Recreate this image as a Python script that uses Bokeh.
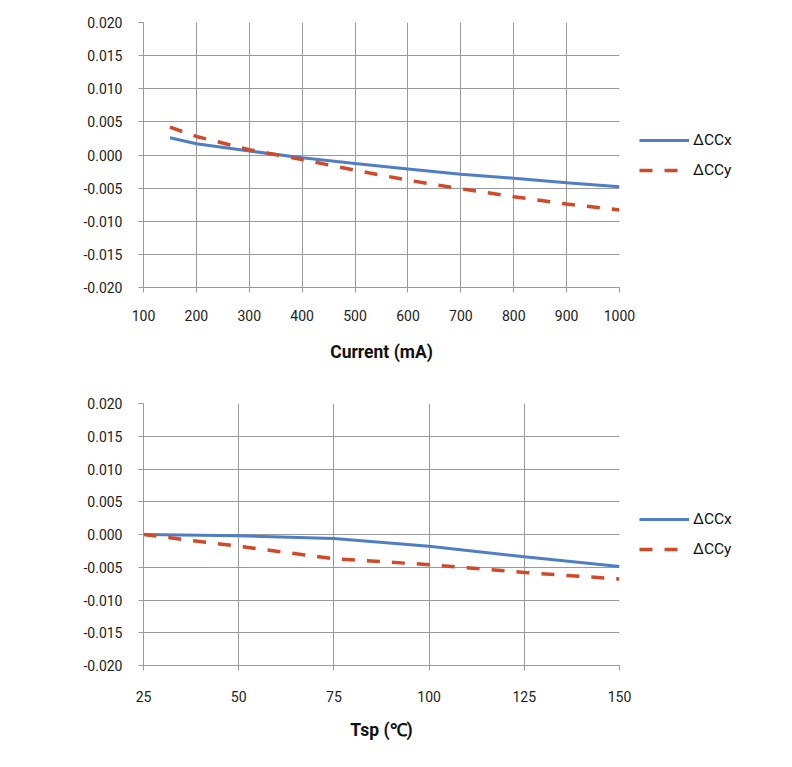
from bokeh.plotting import figure
from bokeh.layouts import column
from bokeh.models import FixedTicker, Legend, LegendItem, Range1d
from bokeh.embed import file_html
from bokeh.resources import INLINE

# Top chart: chromaticity shift vs current
current_ma = [150, 200, 300, 400, 500, 600, 700, 800, 900, 1000]
dccx_current = [0.0026, 0.0017, 0.0006, -0.0004, -0.0013, -0.0021, -0.0029, -0.0035, -0.0042, -0.0048]
dccy_current = [0.0042, 0.0028, 0.0008, -0.0007, -0.0023, -0.0038, -0.0051, -0.0063, -0.0074, -0.0083]

# Bottom chart: chromaticity shift vs solder point temperature
tsp_c = [25, 50, 75, 100, 125, 150]
dccx_tsp = [0.0000, -0.0002, -0.0006, -0.0018, -0.0034, -0.0049]
dccy_tsp = [0.0000, -0.0018, -0.0037, -0.0046, -0.0058, -0.0068]

y_ticks = [0.020, 0.015, 0.010, 0.005, 0.0, -0.005, -0.010, -0.015, -0.020]
y_labels = {-0.02: "-0.020", -0.015: "-0.015", -0.01: "-0.010", -0.005: "-0.005", 0.0: "0.000",
            0.005: "0.005", 0.01: "0.010", 0.015: "0.015", 0.02: "0.020"}
x_ticks_top = [100, 200, 300, 400, 500, 600, 700, 800, 900, 1000]
x_ticks_bot = [25, 50, 75, 100, 125, 150]

BLUE = "#4F7EC4"
RED = "#D04A2A"
GRID = "#9a9a9a"
FONT = "Roboto"


def make(xs, ya, yb, xr, xticks, title, fh, top, bottom, tick_standoff, title_standoff):
    p = figure(frame_width=476, frame_height=fh, output_backend="svg", toolbar_location=None,
               x_range=Range1d(*xr), y_range=Range1d(-0.02, 0.02),
               min_border_left=143, min_border_right=10,
               min_border_top=top, min_border_bottom=bottom)
    p.outline_line_color = None
    p.background_fill_color = "white"
    p.border_fill_color = "white"
    r1 = p.line(xs, ya, line_color=BLUE, line_width=3)
    r2 = p.line(xs, yb, line_color=RED, line_width=3.5, line_dash="13 12")

    p.xaxis.ticker = FixedTicker(ticks=xticks)
    p.yaxis.ticker = FixedTicker(ticks=y_ticks)
    p.yaxis.major_label_overrides = y_labels
    for ax in (p.xaxis[0], p.yaxis[0]):
        ax.axis_line_color = GRID
        ax.major_tick_line_color = GRID
        ax.major_tick_out = 5
        ax.major_tick_in = 0
        ax.minor_tick_line_color = None
        ax.major_label_text_font = FONT
        ax.major_label_text_font_size = "14px"
        ax.major_label_text_color = "#222222"
    p.xaxis.major_label_standoff = tick_standoff
    p.yaxis.major_label_standoff = 16
    p.xaxis.axis_label = title
    p.xaxis.axis_label_text_font = FONT
    p.xaxis.axis_label_text_font_style = "bold"
    p.xaxis.axis_label_text_font_size = "17.5px"
    p.xaxis.axis_label_text_color = "#111111"
    p.xaxis.axis_label_standoff = title_standoff
    p.xgrid.ticker = FixedTicker(ticks=xticks)
    p.ygrid.ticker = FixedTicker(ticks=y_ticks)
    p.xgrid.grid_line_color = GRID
    p.ygrid.grid_line_color = GRID

    legend = Legend(items=[LegendItem(label="\u0394CCx", renderers=[r1]),
                           LegendItem(label="\u0394CCy", renderers=[r2])],
                    location="left", orientation="vertical",
                    border_line_color=None, background_fill_alpha=0,
                    label_text_font=FONT, label_text_font_size="15.5px",
                    label_text_color="#111111",
                    glyph_width=50, label_standoff=4, spacing=10, padding=2,
                    margin=20)
    p.add_layout(legend, "right")
    return p


p1 = make(current_ma, dccx_current, dccy_current, (100, 1000), x_ticks_top,
          "Current (mA)", 265, 22, 93, 17, 18)
p2 = make(tsp_c, dccx_tsp, dccy_tsp, (25, 150), x_ticks_bot,
          "Tsp (\u2103)", 262, 23, 102, 20, 15)

layout = column(p1, p2, spacing=0)
open("out.html", "w").write(file_html(layout, INLINE))
